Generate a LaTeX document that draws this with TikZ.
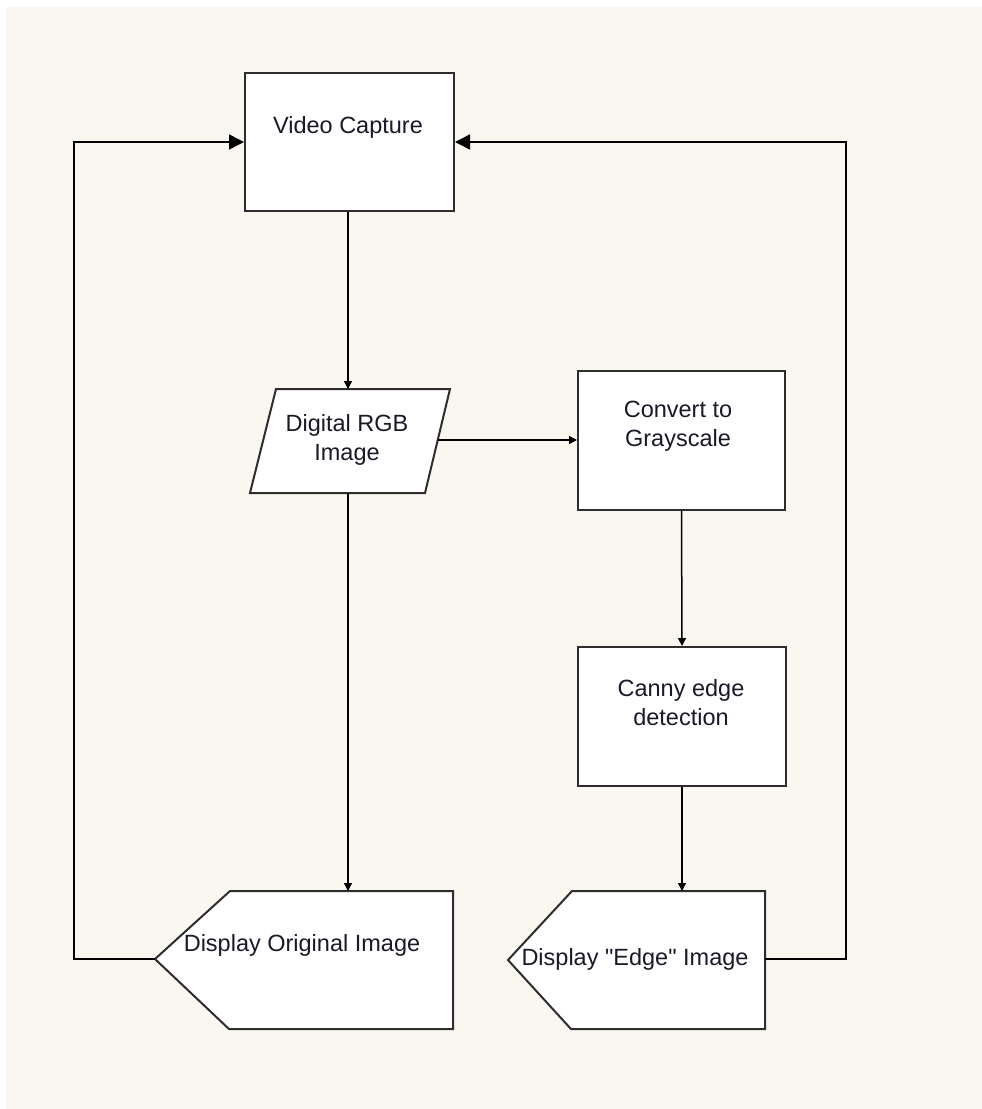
\documentclass[tikz,border=0pt]{standalone}
\usepackage{fontspec}
\setmainfont{Liberation Sans}
\newfontfamily\lblfont{Liberation Sans}
\usetikzlibrary{arrows.meta}
\definecolor{cream}{RGB}{250,247,240}
\definecolor{edgec}{RGB}{45,45,45}
\definecolor{txt}{RGB}{25,25,40}
\begin{document}
\begin{tikzpicture}[x=1pt,y=-1pt,
  boxshape/.style={draw=edgec,line width=2pt,fill=white,inner sep=0pt},
  conn/.style={draw=black,line width=1.5pt},
  smallarrow/.style={conn,-{Triangle[length=8pt,width=8pt]}},
  bigarrow/.style={conn,-{Triangle[length=15pt,width=15pt]}},
  lbl/.style={font=\lblfont\fontsize{23.5}{28.5}\selectfont,text=txt,align=center,inner sep=0pt}]
\useasboundingbox (0,0) rectangle (982,1109);
\fill[white] (0,0) rectangle (982,1109);
\fill[cream] (6,7) rectangle (995,1120);

% rectangles
\node[boxshape,minimum width=209pt,minimum height=138pt] (vc) at (349.5,142) {};
\node[boxshape,minimum width=207pt,minimum height=139pt] (gray) at (681.5,440.5) {};
\node[boxshape,minimum width=208pt,minimum height=139pt] (canny) at (682,716.5) {};

% parallelogram
\draw[boxshape] (276,389) -- (450,389) -- (425,493) -- (250,493) -- cycle;
\coordinate (rgbT) at (348,389);
\coordinate (rgbB) at (348,493);
\coordinate (rgbR) at (437.5,440);

% display shapes
\draw[boxshape] (155,959) -- (230,891) -- (453,891) -- (453,1029) -- (229,1029) -- cycle;
\coordinate (doT) at (348,891);
\coordinate (doL) at (155,959);
\draw[boxshape] (508,960) -- (572,891) -- (765,891) -- (765,1029) -- (571,1029) -- cycle;
\coordinate (deT) at (682,891);
\coordinate (deR) at (765,959);

% labels
\node[lbl] (tvc) at (348,127) {Video Capture};
\node[lbl] (trgb) at (347,440) {Digital RGB\\Image};
\node[lbl] (tgray) at (678,426) {Convert to\\Grayscale};
\node[lbl] (tcanny) at (681,702.5) {Canny edge\\detection};
\node[lbl] (tdo) at (302,945) {Display Original Image};
\node[lbl] (tde) at (635,959) {Display "Edge" Image};

% loop corners
\coordinate (lb) at (74,959);
\coordinate (lt) at (74,142);
\coordinate (rb) at (846,959);
\coordinate (rt) at (846,142);

% connectors
\draw[smallarrow] (vc.south -| rgbT) -- (rgbT);
\draw[smallarrow] (rgbR) -- (rgbR -| gray.west);
\draw[smallarrow] (gray.south) -- (canny.north);
\draw[smallarrow] (canny.south) -- (deT);
\draw[smallarrow] (rgbB) -- (doT);
\draw[bigarrow] (doL) -- (lb) -- (lt) -- (vc.west);
\draw[bigarrow] (deR) -- (rb) -- (rt) -- (vc.east);
\end{tikzpicture}
\end{document}
